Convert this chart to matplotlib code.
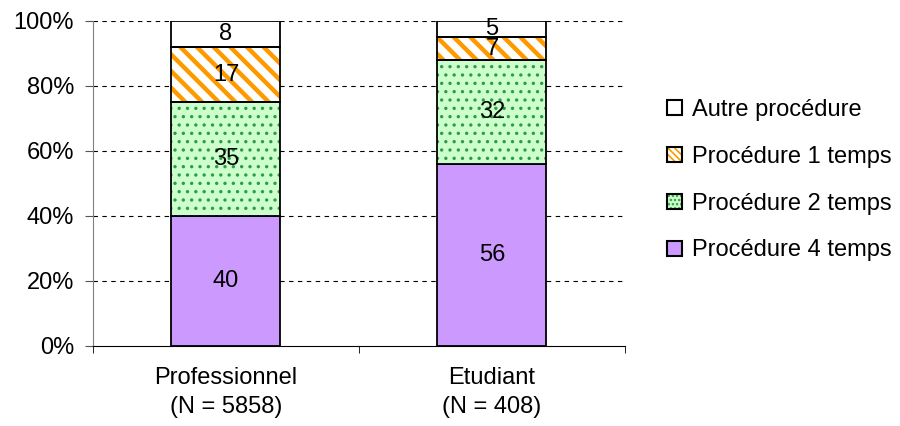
import matplotlib
matplotlib.use("Agg")
import matplotlib.pyplot as plt
import numpy as np
from matplotlib.patches import Patch
from matplotlib.legend_handler import HandlerTuple

plt.rcParams['font.family'] = ['Liberation Sans', 'DejaVu Sans']

# data
categories = ['Professionnel\n(N = 5858)', 'Etudiant\n(N = 408)']
series = ['Procédure 4 temps', 'Procédure 2 temps', 'Procédure 1 temps', 'Autre procédure']
values = {
    'Procédure 4 temps': [40, 56],
    'Procédure 2 temps': [35, 32],
    'Procédure 1 temps': [17, 7],
    'Autre procédure': [8, 5],
}
y_ticks = [0, 20, 40, 60, 80, 100]
y_labels = ['0%', '20%', '40%', '60%', '80%', '100%']

# styles: (face, hatch color, hatch in bars, hatch in legend)
styles = {
    'Procédure 4 temps': ('#CC99FF', None, None, None),
    'Procédure 2 temps': ('#CCFFCC', '#2E9B45', '..', '....'),
    'Procédure 1 temps': ('white', '#FF9900', '\\\\', '\\\\\\\\\\'),
    'Autre procédure': ('white', None, None, None),
}
hatch_lw = {'Procédure 2 temps': 1.2, 'Procédure 1 temps': 3.2}

fig = plt.figure(figsize=(9, 4.26), dpi=100)
ax = fig.add_axes([0.1033, 0.188, 0.5911, 0.763])

x = np.arange(len(categories))
width = 0.41
bottom = np.zeros(len(categories))
for s in series:
    vals = np.array(values[s], dtype=float)
    face, hcol, hatch, _ = styles[s]
    if hatch:
        plt.rcParams['hatch.linewidth'] = hatch_lw[s]
        ax.bar(x, vals, width, bottom=bottom, color=face, edgecolor=hcol,
               hatch=hatch, linewidth=0, zorder=2)
        ax.bar(x, vals, width, bottom=bottom, fill=False, edgecolor='black',
               linewidth=1.3, zorder=3)
    else:
        ax.bar(x, vals, width, bottom=bottom, color=face, edgecolor='black',
               linewidth=1.3, zorder=2)
    for xi, v, b in zip(x, vals, bottom):
        ax.text(xi, b + v / 2, f'{v:g}', ha='center', va='center',
                fontsize=17, zorder=4)
    bottom += vals

ax.set_xlim(-0.5, 1.5)
ax.set_ylim(0, 100)
ax.set_yticks(y_ticks)
ax.set_yticklabels(y_labels, fontsize=17)
for yv in y_ticks[1:]:
    ax.axhline(yv, color='black', linestyle=(0, (4, 4)), linewidth=0.8, zorder=1)

ax.set_xticks(x)
ax.set_xticklabels(categories, fontsize=17, linespacing=1.4)
ax.set_xticks([-0.5, 0.5, 1.5], minor=True)
ax.tick_params(axis='x', which='major', length=0, pad=15)
ax.tick_params(axis='x', which='minor', length=5, direction='out')
ax.tick_params(axis='y', length=5.5, direction='out', color='#555555', pad=8)

for side in ['top', 'right']:
    ax.spines[side].set_visible(False)
ax.spines['left'].set_color('gray')
ax.spines['bottom'].set_color('black')

# legend (top to bottom as in the original)
handles = []
for s in series[::-1]:
    face, hcol, _, lhatch = styles[s]
    if lhatch:
        plt.rcParams['hatch.linewidth'] = hatch_lw[s]
        h1 = Patch(facecolor=face, edgecolor=hcol, hatch=lhatch, linewidth=0)
        h2 = Patch(fill=False, edgecolor='black', linewidth=1.5)
        handles.append((h1, h2))
    else:
        handles.append(Patch(facecolor=face, edgecolor='black', linewidth=1.5))
fig.legend(handles, series[::-1], loc='center left', bbox_to_anchor=(0.731, 0.577),
           borderaxespad=0, frameon=False, fontsize=17, handlelength=0.6,
           handleheight=0.6, handletextpad=0.45, labelspacing=1.05,
           handler_map={tuple: HandlerTuple(ndivide=1, pad=0)})

fig.savefig('out.png', dpi=100)
